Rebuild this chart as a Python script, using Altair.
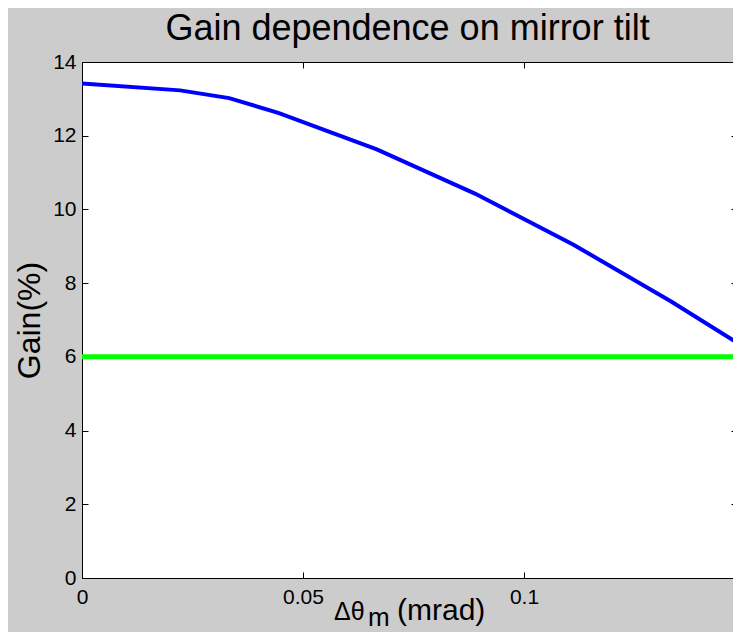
import altair as alt
import pandas as pd

# ---- data ----
tilt_mrad = [0, 0.0222, 0.0333, 0.0444, 0.0667, 0.0889, 0.1111, 0.1333, 0.15]
gain_pct = [13.42, 13.23, 13.02, 12.62, 11.63, 10.43, 9.05, 7.5, 6.25]
threshold_pct = [6]
x_ticks = [0, 0.05, 0.1]
y_ticks = [0, 2, 4, 6, 8, 10, 12, 14]
title_text = "Gain dependence on mirror tilt"
y_title = "Gain(%)"
x_title_parts = ["Δθ", "m", "(mrad)"]

df = pd.DataFrame({"tilt": tilt_mrad, "gain": gain_pct})
thr = pd.DataFrame({"gain": threshold_pct})
one = pd.DataFrame({"k": [0]})

FONT = "Liberation Sans"
W, H = 651, 516
xs = alt.Scale(domain=[0, 0.14729], nice=False, zero=False)
ys = alt.Scale(domain=[0, 14], nice=False, zero=False)


def tick_axis(orient, values, offset):
    return alt.Axis(orient=orient, offset=offset, values=values, labels=False,
                    domain=False, ticks=True, tickSize=6, tickColor="black",
                    tickWidth=1, grid=False, title=None)


x_label_axis = alt.Axis(orient="bottom", values=x_ticks, format="~g", ticks=False,
                        domain=False, grid=False, labelFont=FONT, labelFontSize=21,
                        labelColor="black", labelPadding=8, labelFlush=False,
                        labelOverlap=False, title=None)
y_label_axis = alt.Axis(orient="left", values=y_ticks, ticks=False, domain=False,
                        grid=False, labelFont=FONT, labelFontSize=21,
                        labelColor="black", labelPadding=6, labelFlush=False,
                        labelOverlap=False, title=y_title, titleFont=FONT,
                        titleFontSize=32, titleFontWeight="normal",
                        titleColor="black", titlePadding=6)

line = alt.Chart(df).mark_line(color="#0000ff", strokeWidth=4, clip=True).encode(
    x=alt.X("tilt:Q", scale=xs, axis=x_label_axis),
    y=alt.Y("gain:Q", scale=ys, axis=y_label_axis),
)

ticks_a = alt.Chart(df).mark_point(opacity=0).encode(
    x=alt.X("tilt:Q", scale=xs, axis=tick_axis("bottom", x_ticks, -6)),
    y=alt.Y("gain:Q", scale=ys, axis=tick_axis("left", y_ticks, -6)),
)
ticks_b = alt.Chart(df).mark_point(opacity=0).encode(
    x=alt.X("tilt:Q", scale=xs, axis=tick_axis("top", x_ticks, -6)),
    y=alt.Y("gain:Q", scale=ys, axis=tick_axis("right", y_ticks, -2)),
)

rule = alt.Chart(thr).mark_rule(color="#00ff00", strokeWidth=5).encode(
    y=alt.Y("gain:Q", scale=ys, axis=None)
)

txt_kw = dict(font=FONT, color="black", baseline="alphabetic", align="left")
t1 = alt.Chart(one).mark_text(text=x_title_parts[0], fontSize=25, **txt_kw).encode(
    x=alt.value(252), y=alt.value(558))
t2 = alt.Chart(one).mark_text(text=x_title_parts[1], fontSize=26, **txt_kw).encode(
    x=alt.value(286), y=alt.value(564))
t3 = alt.Chart(one).mark_text(text=x_title_parts[2], fontSize=30, **txt_kw).encode(
    x=alt.value(315), y=alt.value(558))

chart = alt.layer(line, ticks_a, ticks_b, rule, t1, t2, t3).resolve_axis(
    x="independent", y="independent"
).properties(
    width=W, height=H,
    title=alt.TitleParams(title_text, font=FONT, fontSize=36, fontWeight="normal",
                          color="black", anchor="middle", frame="group", offset=3),
    background="#cccccc",
    autosize=alt.AutoSizeParams(type="none"),
    padding={"left": 74, "top": 54, "right": 0, "bottom": 54},
).configure_view(fill="white", stroke="black", strokeWidth=1)

chart.save("out.html", embed_options={"renderer": "svg", "actions": False})
